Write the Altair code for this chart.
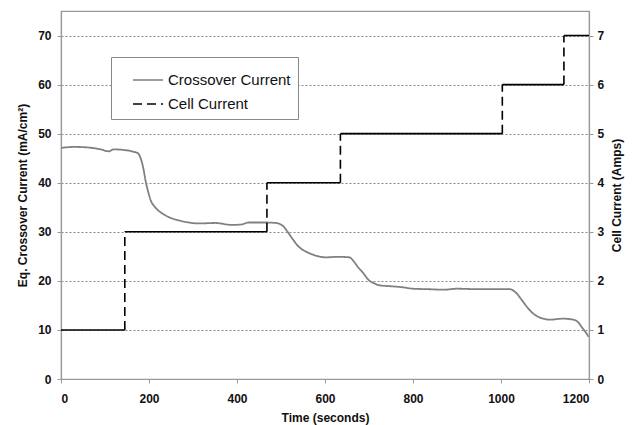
import altair as alt
import pandas as pd

FONT = "Liberation Sans"

# Crossover current (mA/cm^2) vs time (s)
cross_t = [0, 30, 60, 90, 109, 120, 140, 166, 175, 181, 187, 192, 198, 204, 214, 226, 245, 264,
           290, 314, 350, 389, 410, 427, 460, 488, 503, 515, 525, 541, 556, 571, 601, 630, 655,
           666, 675, 685, 700, 712, 723, 750, 776, 800, 836, 870, 900, 950, 1000, 1020, 1036,
           1048, 1059, 1070, 1082, 1111, 1142, 1168, 1176, 1184, 1192, 1199]
cross_v = [47.1, 47.3, 47.2, 46.8, 46.4, 46.8, 46.7, 46.3, 46.0, 45.0, 43.0, 40.5, 38.2, 36.4,
           35.0, 34.0, 33.0, 32.4, 31.9, 31.7, 31.8, 31.4, 31.5, 31.9, 31.9, 31.8, 31.3, 30.0,
           28.7, 26.9, 26.0, 25.4, 24.8, 24.9, 24.8, 23.9, 22.8, 21.8, 20.1, 19.5, 19.1, 18.9,
           18.7, 18.4, 18.3, 18.2, 18.4, 18.3, 18.3, 18.3, 17.4, 16.0, 14.7, 13.6, 12.8, 12.1,
           12.3, 12.0, 11.5, 10.5, 9.6, 8.6]

# Cell current steps (Amps)
step_start = [0, 145, 468, 635, 1003, 1143]
step_end = [145, 468, 635, 1003, 1143, 1200]
step_amps = [1, 3, 4, 5, 6, 7]
jump_t = [145, 468, 635, 1003, 1143]
jump_from = [1, 3, 4, 5, 6]
jump_to = [3, 4, 5, 6, 7]

SERIES = ["Crossover Current", "Cell Current"]

cross_df = pd.DataFrame({"t": cross_t, "v": cross_v, "series": SERIES[0]})
step_df = pd.DataFrame({"t0": step_start, "t1": step_end, "a": step_amps})
jump_df = pd.DataFrame({"t": jump_t, "a0": jump_from, "a1": jump_to, "series": SERIES[1]})

x_scale = alt.Scale(domain=[0, 1200], nice=False)
x_axis = alt.Axis(values=list(range(0, 1201, 200)), title="Time (seconds)", grid=False,
                  format="d", labelPadding=10, titlePadding=8)

color = alt.Color("series:N", scale=alt.Scale(domain=SERIES, range=["#808080", "#000000"]),
                  legend=alt.Legend(orient="none", legendX=50, legendY=46, title=None,
                                    fillColor="white", strokeColor="#888888", padding=7,
                                    symbolOffset=14, rowPadding=0, symbolSize=900,
                                    symbolStrokeWidth=1.6, labelFontSize=15, labelFont=FONT,
                                    labelOffset=4, labelColor="#111111"))
dash = alt.StrokeDash("series:N", scale=alt.Scale(domain=SERIES, range=[[1, 0], [9, 5]]),
                      legend=None)

left_y = alt.Y("v:Q", scale=alt.Scale(domain=[0, 75], nice=False),
               axis=alt.Axis(values=list(range(0, 71, 10)), grid=True, gridDash=[2, 2],
                             gridColor="#8a8a8a", title="Eq. Crossover Current (mA/cm²)",
                             titlePadding=8, labelPadding=6))

cross = alt.Chart(cross_df).mark_line(strokeWidth=1.8, interpolate="monotone").encode(
    x=alt.X("t:Q", scale=x_scale, axis=x_axis),
    y=left_y,
    color=color,
    strokeDash=dash,
)

right_axis = alt.Axis(values=list(range(0, 8)), orient="right", grid=False,
                      title="Cell Current (Amps)", titlePadding=8, titleAngle=270,
                      titleBaseline="top")
right_scale = alt.Scale(domain=[0, 7.5], nice=False)

horiz = alt.Chart(step_df).mark_rule(strokeWidth=1.6, color="black").encode(
    x=alt.X("t0:Q", scale=x_scale, axis=x_axis),
    x2="t1:Q",
    y=alt.Y("a:Q", scale=right_scale, axis=right_axis),
)

vert = alt.Chart(jump_df).mark_rule(strokeWidth=1.6).encode(
    x=alt.X("t:Q", scale=x_scale, axis=x_axis),
    y=alt.Y("a0:Q", scale=right_scale, axis=right_axis),
    y2="a1:Q",
    color=color,
    strokeDash=dash,
)

cell = alt.layer(horiz, vert)

chart = alt.layer(cross, cell).resolve_scale(y="independent").properties(
    width=528, height=368,
    padding={"left": 8, "top": 3, "right": 2, "bottom": 2},
).configure_view(
    stroke="#999999", strokeWidth=1.2
).configure_axis(
    labelFont=FONT, titleFont=FONT, labelFontSize=12, titleFontSize=12,
    labelFontWeight="bold", titleFontWeight="bold", labelColor="#111111",
    titleColor="#111111", domainColor="#999999", tickColor="#999999",
    tickSize=4, domainWidth=1.2, labelPadding=4,
)

chart.save("out.html", embed_options={"renderer": "svg", "actions": False})
